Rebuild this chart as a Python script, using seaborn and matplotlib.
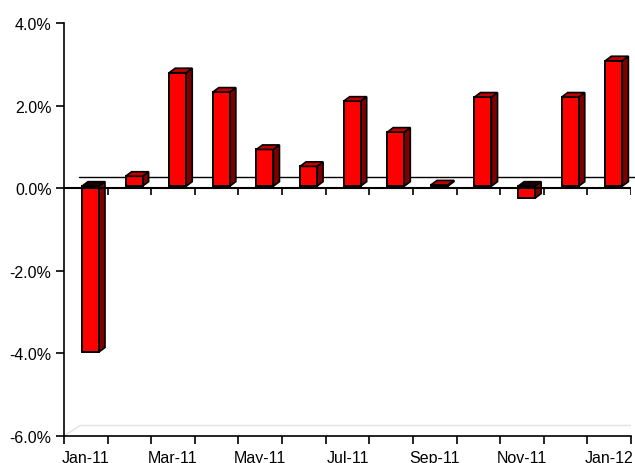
import numpy as np
import pandas as pd
import matplotlib
matplotlib.use('Agg')
import matplotlib.pyplot as plt
import seaborn as sns
from matplotlib.patches import Polygon
from matplotlib.ticker import FuncFormatter

# Data
months = ['Jan-11', 'Feb-11', 'Mar-11', 'Apr-11', 'May-11', 'Jun-11', 'Jul-11',
          'Aug-11', 'Sep-11', 'Oct-11', 'Nov-11', 'Dec-11', 'Jan-12']
returns = [-4.02, 0.24, 2.75, 2.28, 0.89, 0.48, 2.06, 1.31, 0.03, 2.16, -0.29, 2.16, 3.04]
y_ticks = [-6, -4, -2, 0, 2, 4]

df = pd.DataFrame({'month': months, 'ret': returns})

sns.set_theme(style='white')
plt.rcParams['font.family'] = ['Liberation Sans', 'DejaVu Sans']

fig = plt.figure(figsize=(6.35, 4.64), dpi=100)
ax = fig.add_axes([0.1008, 0.0582, 0.8929, 0.889])

# front faces of the bars
sns.barplot(data=df, x='month', y='ret', color='#ff0000', width=0.39,
            edgecolor='black', linewidth=1.4, saturation=1, ax=ax)

shift, lift = 0.105, 0.056   # bar front sits a bit behind the axis plane
ddx, ddy = 0.14, 0.11        # depth of the 3d bars
for p in ax.patches:
    p.set_x(p.get_x() + shift)
    p.set_y(p.get_y() + lift)
    p.set_zorder(3)
    x0, y0 = p.get_x(), p.get_y()
    w, h = p.get_width(), p.get_height()
    lo, hi = min(y0, y0 + h), max(y0, y0 + h)
    neg = h < 0
    # top face
    top = Polygon([(x0, hi), (x0 + w, hi), (x0 + w + ddx, hi + ddy), (x0 + ddx, hi + ddy)],
                  closed=True, facecolor='#1a0000' if neg else '#c00000',
                  edgecolor='black', linewidth=1.2, zorder=3)
    # side face
    side = Polygon([(x0 + w, lo), (x0 + w + ddx, lo + ddy), (x0 + w + ddx, hi + ddy), (x0 + w, hi)],
                   closed=True, facecolor='#800000', edgecolor='black', linewidth=1.2, zorder=2.9)
    ax.add_patch(side)
    ax.add_patch(top)

# back wall zero line and floor edge
ax.plot([-0.16, 12.6], [0.27, 0.27], color='black', lw=1, zorder=1, clip_on=False)
ax.plot([-0.13, 12.5], [-5.745, -5.745], color='#e3e3e3', lw=1, zorder=1)
ax.plot([-0.5, -0.13], [-6, -5.745], color='#e3e3e3', lw=1, zorder=1)

# zero line with category ticks
ax.axhline(0, color='black', lw=1.5, zorder=4)
bounds = np.arange(len(months) + 1) - 0.5
ax.vlines(bounds[1:], -0.15, 0, color='black', lw=1.2, zorder=4)

ax.set_xlim(-0.5, len(months) - 0.5)
ax.set_ylim(-6, 4)
ax.set_yticks(y_ticks)
ax.yaxis.set_major_formatter(FuncFormatter(lambda v, _: f'{v:.1f}%'))

ax.set_xticks(np.arange(0, len(months), 2))
ax.set_xticklabels(months[::2])
ax.set_xticks(bounds, minor=True)
ax.tick_params(axis='x', which='major', length=0, pad=10, labelsize=11.5, colors='black')
ax.tick_params(axis='x', which='minor', length=6, width=1.2, color='black', bottom=True)
ax.tick_params(axis='y', length=6, width=1.2, color='black', left=True, pad=3,
               labelsize=11.5, labelcolor='black')

ax.set_xlabel('')
ax.set_ylabel('')
for s in ['top', 'right']:
    ax.spines[s].set_visible(False)
for s in ['left', 'bottom']:
    ax.spines[s].set_color('black')
    ax.spines[s].set_linewidth(1.2)

fig.savefig('out.png', dpi=100)
